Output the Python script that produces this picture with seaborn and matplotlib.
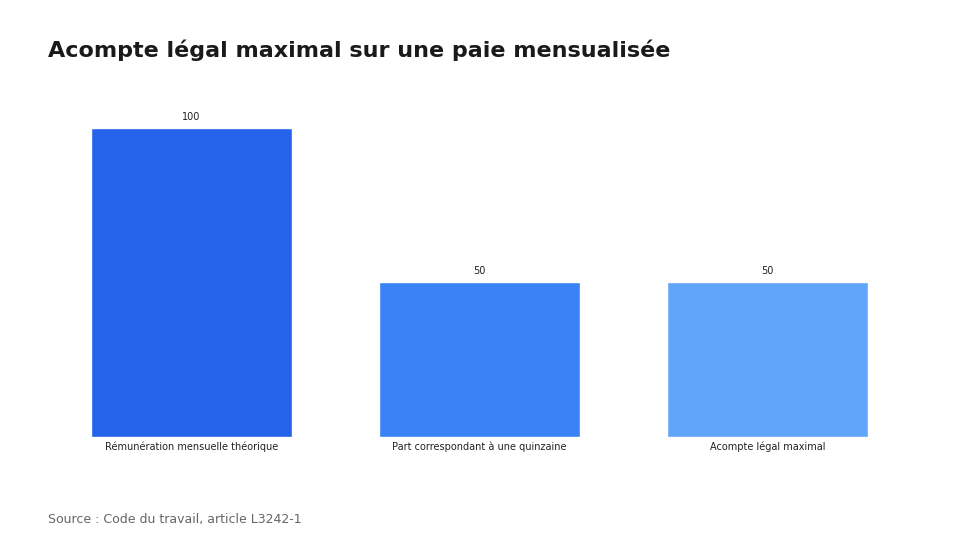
import matplotlib
matplotlib.use("Agg")
import matplotlib.pyplot as plt
import seaborn as sns
import pandas as pd

categories = ["Rémunération mensuelle théorique", "Part correspondant à une quinzaine", "Acompte légal maximal"]
values = [100, 50, 50]
colors = ["#2563EB", "#3B82F6", "#60A5FA"]

sns.set_style("white")
plt.rcParams['font.family'] = ['DejaVu Sans']

fig = plt.figure(figsize=(9.6, 5.4), dpi=100)
ax = fig.add_axes([47.5/960, 1-437/540, 864/960, 340/540])
df = pd.DataFrame({"cat": categories, "val": values})
sns.barplot(data=df, x="cat", y="val", hue="cat", palette=colors, width=0.7, ax=ax, legend=False, saturation=1)
ax.set_xlim(-0.5, 2.5)
ax.set_ylim(0, 110)
for i, v in enumerate(values):
    ax.text(i, v + 2, f"{v}", ha="center", va="bottom", fontsize=7, color="#222222")
ax.set_xlabel("")
ax.set_ylabel("")
ax.set_yticks([])
ax.tick_params(axis="x", length=0, labelsize=7, colors="#222222", pad=3)
for s in ax.spines.values():
    s.set_visible(False)
fig.text(48/960, 1-50/540, "Acompte légal maximal sur une paie mensualisée", fontsize=16, fontweight="bold", color="#1a1a1a", va="center")
fig.text(48/960, 1-520/540, "Source : Code du travail, article L3242-1", fontsize=9, color="#666666", va="center")
fig.savefig("out.png", dpi=100)
